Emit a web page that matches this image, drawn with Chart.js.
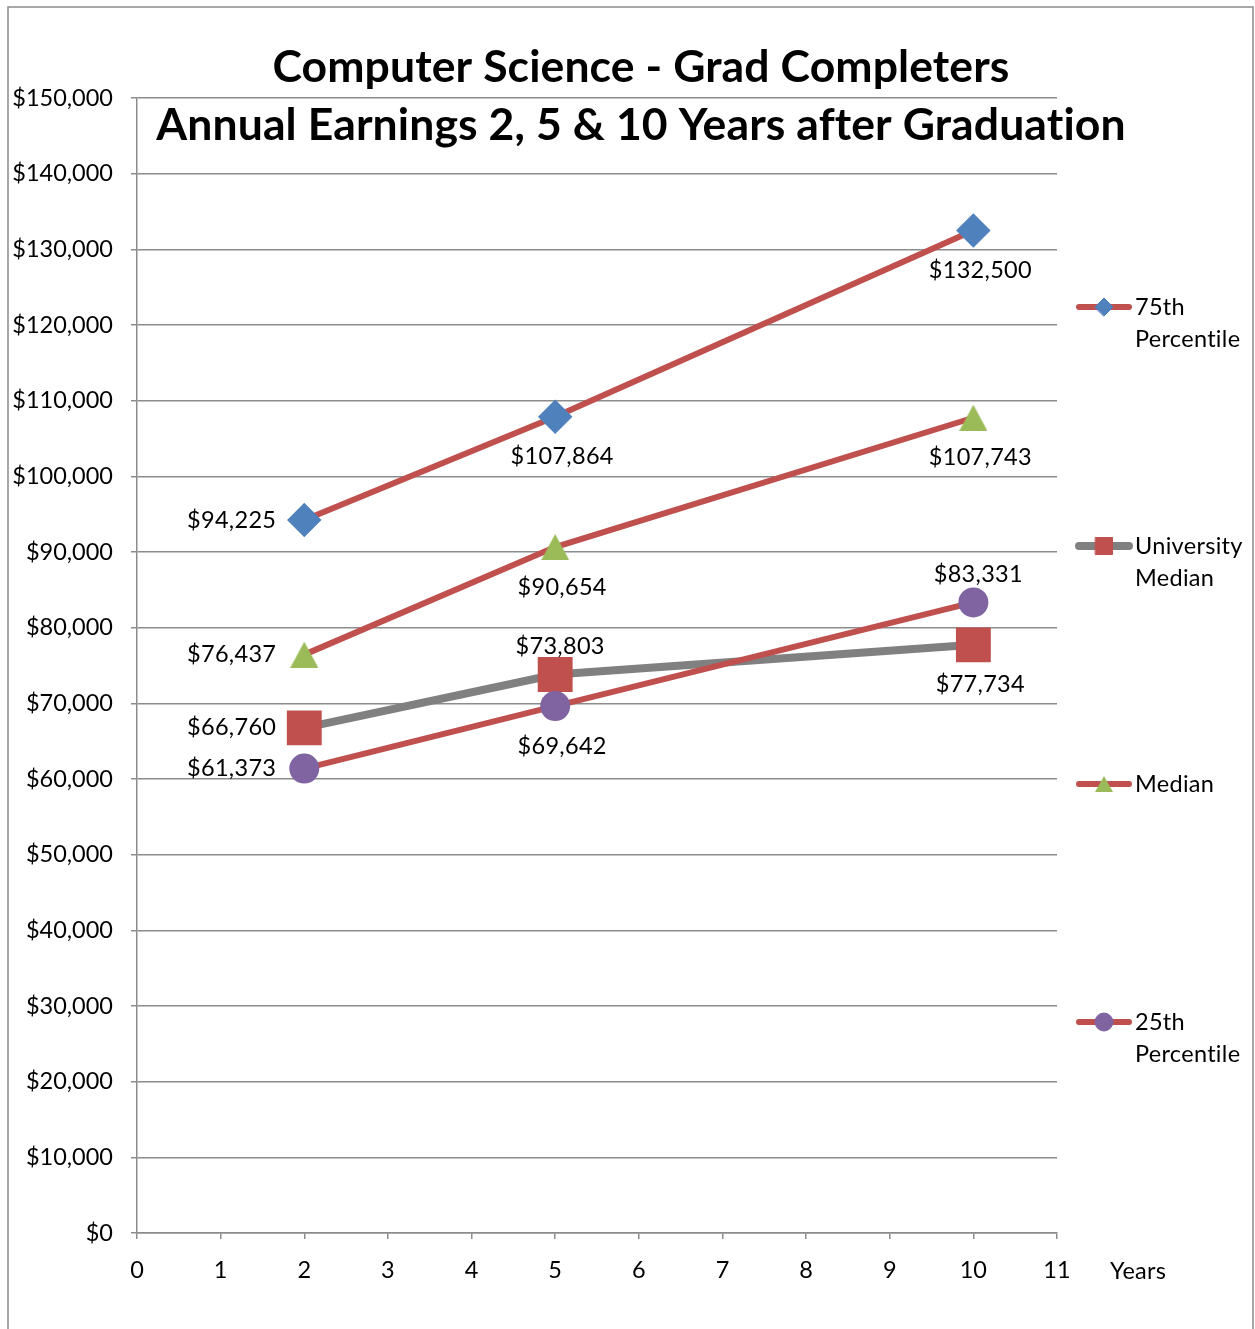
<!DOCTYPE html>
<html>
<head>
<meta charset="utf-8">
<script src="https://cdn.jsdelivr.net/npm/chart.js@4"></script>
<style>
  html, body { margin: 0; padding: 0; background: #fff; }
  #wrap { position: relative; width: 1255px; height: 1329px; }
</style>
</head>
<body>
<div id="wrap"><canvas id="lineChart" width="1255" height="1329"></canvas></div>
<script>
// chart data
var years = [2, 5, 10];
var p75 = [94225, 107864, 132500];
var uniMedian = [66760, 73803, 77734];
var median = [76437, 90654, 107743];
var p25 = [61373, 69642, 83331];
var seriesNames = ['75th Percentile', 'University Median', 'Median', '25th Percentile'];
var titleLines = ['Computer Science - Grad Completers', 'Annual Earnings 2, 5 & 10 Years after Graduation'];

var FONT = 'Lato, "Noto Sans", sans-serif';
var RED = '#C0504D', GRAY = '#808080', BLUE = '#4F81BD', GREEN = '#9BBB59', PURPLE = '#8064A2';

function pts(vals) {
    return years.map(function (x, i) { return { x: x, y: vals[i] }; });
}
function money(v) {
    return '$' + v.toLocaleString('en-US');
}

// excel-like triangle marker, box centred on the point
function triangleMarker(w, h) {
    var cv = document.createElement('canvas');
    cv.width = w;
    cv.height = h;
    var t = cv.getContext('2d');
    t.fillStyle = GREEN;
    t.beginPath();
    t.moveTo(w / 2, 0);
    t.lineTo(w, h);
    t.lineTo(0, h);
    t.closePath();
    t.fill();
    return cv;
}
var triBig = triangleMarker(28, 26);
var triSmall = triangleMarker(18, 16);

// where each value label sits relative to its marker
var labelSide = [
    ['left', 'below', 'below'],
    ['left', 'above', 'below'],
    ['left', 'below', 'below'],
    ['left', 'below', 'above']
];

var legendRows = [
    { y: 307, lines: ['75th', 'Percentile'] },
    { y: 546, lines: ['University', 'Median'] },
    { y: 784, lines: ['Median'] },
    { y: 1022, lines: ['25th', 'Percentile'] }
];

var frame = {
    id: 'frame',
    beforeDraw: function (chart) {
        var c = chart.ctx;
        c.save();
        c.fillStyle = '#fff';
        c.fillRect(0, 0, chart.width, chart.height);
        c.strokeStyle = '#8c8c8c';
        c.lineWidth = 1.5;
        c.strokeRect(8, 7, 1245, 1340);
        c.restore();
    }
};

var extras = {
    id: 'extras',
    afterDatasetsDraw: function (chart) {
        var c = chart.ctx;
        c.save();
        c.font = '23.5px ' + FONT;
        c.letterSpacing = '0.3px';
        c.fillStyle = '#000';
        c.textBaseline = 'middle';
        chart.data.datasets.forEach(function (ds, di) {
            var meta = chart.getDatasetMeta(di);
            meta.data.forEach(function (pt, i) {
                var side = labelSide[di][i];
                var txt = money(ds.data[i].y);
                if (side === 'left') {
                    c.textAlign = 'right';
                    c.fillText(txt, pt.x - 28, pt.y);
                } else if (side === 'below') {
                    c.textAlign = 'center';
                    c.fillText(txt, pt.x + 7, pt.y + 40);
                } else {
                    c.textAlign = 'center';
                    c.fillText(txt, pt.x + 5, pt.y - 28);
                }
            });
        });

        // legend
        legendRows.forEach(function (row, di) {
            var ds = chart.data.datasets[di];
            c.strokeStyle = ds.borderColor;
            c.lineWidth = di === 1 ? 8 : 6;
            c.lineCap = 'round';
            c.beginPath();
            c.moveTo(1079, row.y);
            c.lineTo(1129, row.y);
            c.stroke();
            c.fillStyle = ds.pointBackgroundColor;
            c.strokeStyle = ds.pointBackgroundColor;
            c.lineWidth = 1;
            Chart.helpers.drawPoint(c, {
                pointStyle: di === 2 ? triSmall : ds.pointStyle,
                radius: di === 1 ? 12 : 9,
                borderWidth: 1
            }, 1104, row.y);
            c.fillStyle = '#000';
            c.textAlign = 'left';
            row.lines.forEach(function (t, k) {
                c.fillText(t, 1135, row.y + k * 32);
            });
        });

        // axis title
        c.fillText('Years', 1110, 1271);

        // chart title
        c.textAlign = 'center';
        c.letterSpacing = '0.1px';
        c.font = 'bold 44.5px ' + FONT;
        c.fillText(titleLines[0], 641, 68);
        c.fillText(titleLines[1], 641, 126);
        c.restore();
    }
};

var ctx = document.getElementById('lineChart').getContext('2d');

var data = {
    datasets: [
        { label: seriesNames[0], data: pts(p75), borderColor: RED, borderWidth: 6,
          pointStyle: 'rectRot', pointRadius: 13, pointBackgroundColor: BLUE, pointBorderColor: BLUE, order: 0 },
        { label: seriesNames[1], data: pts(uniMedian), borderColor: GRAY, borderWidth: 8,
          pointStyle: 'rect', pointRadius: 19, pointBackgroundColor: RED, pointBorderColor: RED, order: 5 },
        { label: seriesNames[2], data: pts(median), borderColor: RED, borderWidth: 6,
          pointStyle: triBig, pointRadius: 14, pointBackgroundColor: GREEN, pointBorderColor: GREEN, order: 0 },
        { label: seriesNames[3], data: pts(p25), borderColor: RED, borderWidth: 6,
          pointStyle: 'circle', pointRadius: 12, pointBackgroundColor: PURPLE, pointBorderColor: PURPLE, order: 0 }
    ]
};

var options = {
    responsive: false,
    animation: false,
    devicePixelRatio: 1,
    layout: { padding: { top: 98, right: 198, left: 0, bottom: 0 } },
    elements: { line: { tension: 0 }, point: { borderWidth: 1, hoverRadius: 12 } },
    plugins: { legend: { display: false }, title: { display: false }, tooltip: { enabled: false } },
    scales: {
        x: {
            type: 'linear', min: 0, max: 11,
            afterFit: function (s) { s.height = 96; },
            ticks: { stepSize: 1, color: '#000', font: { family: FONT, size: 23.5 }, padding: 17, maxRotation: 0 },
            grid: { drawOnChartArea: false, drawTicks: true, tickLength: 6, color: '#8c8c8c', lineWidth: 1.5 },
            border: { color: '#8c8c8c', width: 1.5 }
        },
        y: {
            min: 0, max: 150000,
            afterFit: function (s) { s.width = 137; },
            ticks: { stepSize: 10000, color: '#000', font: { family: FONT, size: 23.5 }, padding: 18,
                     callback: function (v) { return money(v); } },
            grid: { color: '#8c8c8c', lineWidth: 1.5, tickLength: 6 },
            border: { color: '#8c8c8c', width: 1.5 }
        }
    }
};

var myChart = new Chart(ctx, {
    type: 'line',
    data: data,
    options: options,
    plugins: [frame, extras]
});
</script>
</body>
</html>
